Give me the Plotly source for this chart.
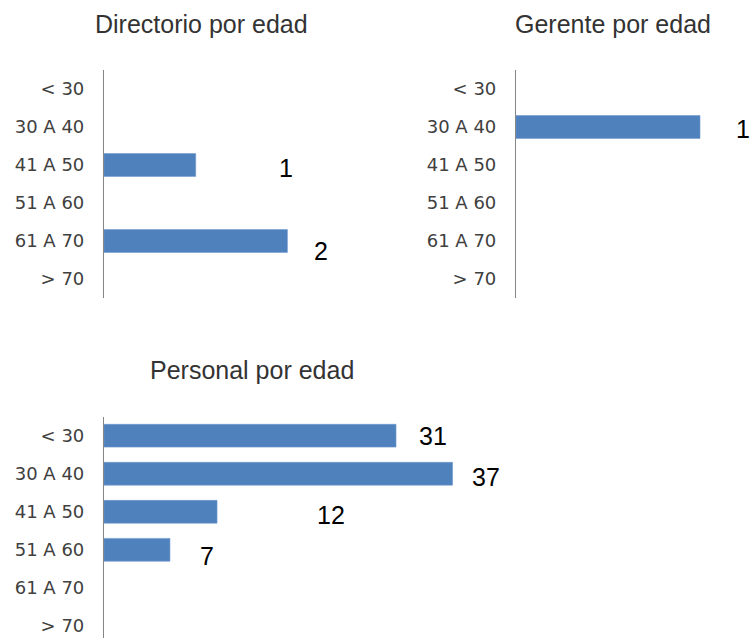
import plotly.graph_objects as go

# ---- data ----
categorias = ["< 30", "30 A 40", "41 A 50", "51 A 60", "61 A 70", "> 70"]
directorio = [None, None, 1, None, 2, None]
gerente = [None, 1, None, None, None, None]
personal = [31, 37, 12, 7, None, None]

titulos = ["Directorio por edad", "Gerente por edad", "Personal por edad"]

# ---- label offsets (pixels, style only) ----
dir_dx = [0, 0, 90, 0, 34, 0]
dir_dy = [0, 0, -3, 0, -10, 0]
ger_dx = [0, 43, 0, 0, 0, 0]
ger_dy = [0, -2, 0, 0, 0, 0]
per_dx = [37, 33, 114, 37, 0, 0]
per_dy = [0, -3, -3, -6, 0, 0]

W, H = 755, 638
BAR = "#4F81BD"
TXT = "#404040"

def px_x(p):
    return p / W

def px_y(p):
    return 1 - p / H

fig = go.Figure()
series = [directorio, gerente, personal]
for i, vals in enumerate(series):
    sfx = "" if i == 0 else str(i + 1)
    fig.add_trace(go.Bar(
        x=vals, y=categorias, orientation="h", width=0.6,
        marker=dict(color=BAR, line=dict(color="#6F99CF", width=0.6)),
        xaxis="x" + sfx, yaxis="y" + sfx, showlegend=False, hoverinfo="skip",
    ))

annotations = []
for i, (vals, dxs, dys) in enumerate([(directorio, dir_dx, dir_dy),
                                      (gerente, ger_dx, ger_dy),
                                      (personal, per_dx, per_dy)]):
    sfx = "" if i == 0 else str(i + 1)
    for c, v, dx, dy in zip(categorias, vals, dxs, dys):
        if v is None:
            continue
        annotations.append(dict(
            x=v, y=c, xref="x" + sfx, yref="y" + sfx, text=str(v),
            showarrow=False, xshift=dx, yshift=dy, xanchor="center", yanchor="middle",
            font=dict(family="Liberation Sans, Arial", size=25, color="#000000"),
        ))

title_pos = [(201, 24), (613, 24), (252, 370)]
for t, (tx, ty) in zip(titulos, title_pos):
    annotations.append(dict(
        x=px_x(tx), y=px_y(ty), xref="paper", yref="paper", text=t,
        showarrow=False, xanchor="center", yanchor="middle",
        font=dict(family="Liberation Sans, Arial", size=25, color="#333333"),
    ))

yax = dict(
    type="category", categoryorder="array", categoryarray=categorias,
    showline=True, linecolor="#868686", linewidth=1.2, showgrid=False,
    zeroline=False, ticks="", ticklabelstandoff=15,
    tickfont=dict(family="DejaVu Sans", size=18, color=TXT),
)
xax = dict(visible=False, showgrid=False, zeroline=False)

top_dom = [px_y(298), px_y(70)]
bot_dom = [0, px_y(416.7)]

fig.update_layout(
    width=W, height=H, margin=dict(l=0, r=0, t=0, b=0),
    paper_bgcolor="white", plot_bgcolor="white", bargap=0.4,
    xaxis=dict(xax, domain=[px_x(104), px_x(350)], range=[0, 246 / 91.7], anchor="y"),
    yaxis=dict(yax, domain=top_dom, range=[5.5, -0.5], anchor="x"),
    xaxis2=dict(xax, domain=[px_x(516), 1], range=[0, 239 / 184.0], anchor="y2"),
    yaxis2=dict(yax, domain=top_dom, range=[5.5, -0.5], anchor="x2"),
    xaxis3=dict(xax, domain=[px_x(104), px_x(600)], range=[0, 496 / 9.42], anchor="y3"),
    yaxis3=dict(yax, domain=bot_dom, range=[5.32, -0.5], anchor="x3"),
    annotations=annotations,
)

fig.write_html("out.html", config={"displayModeBar": False},
               post_script="document.body.style.margin='0';")
